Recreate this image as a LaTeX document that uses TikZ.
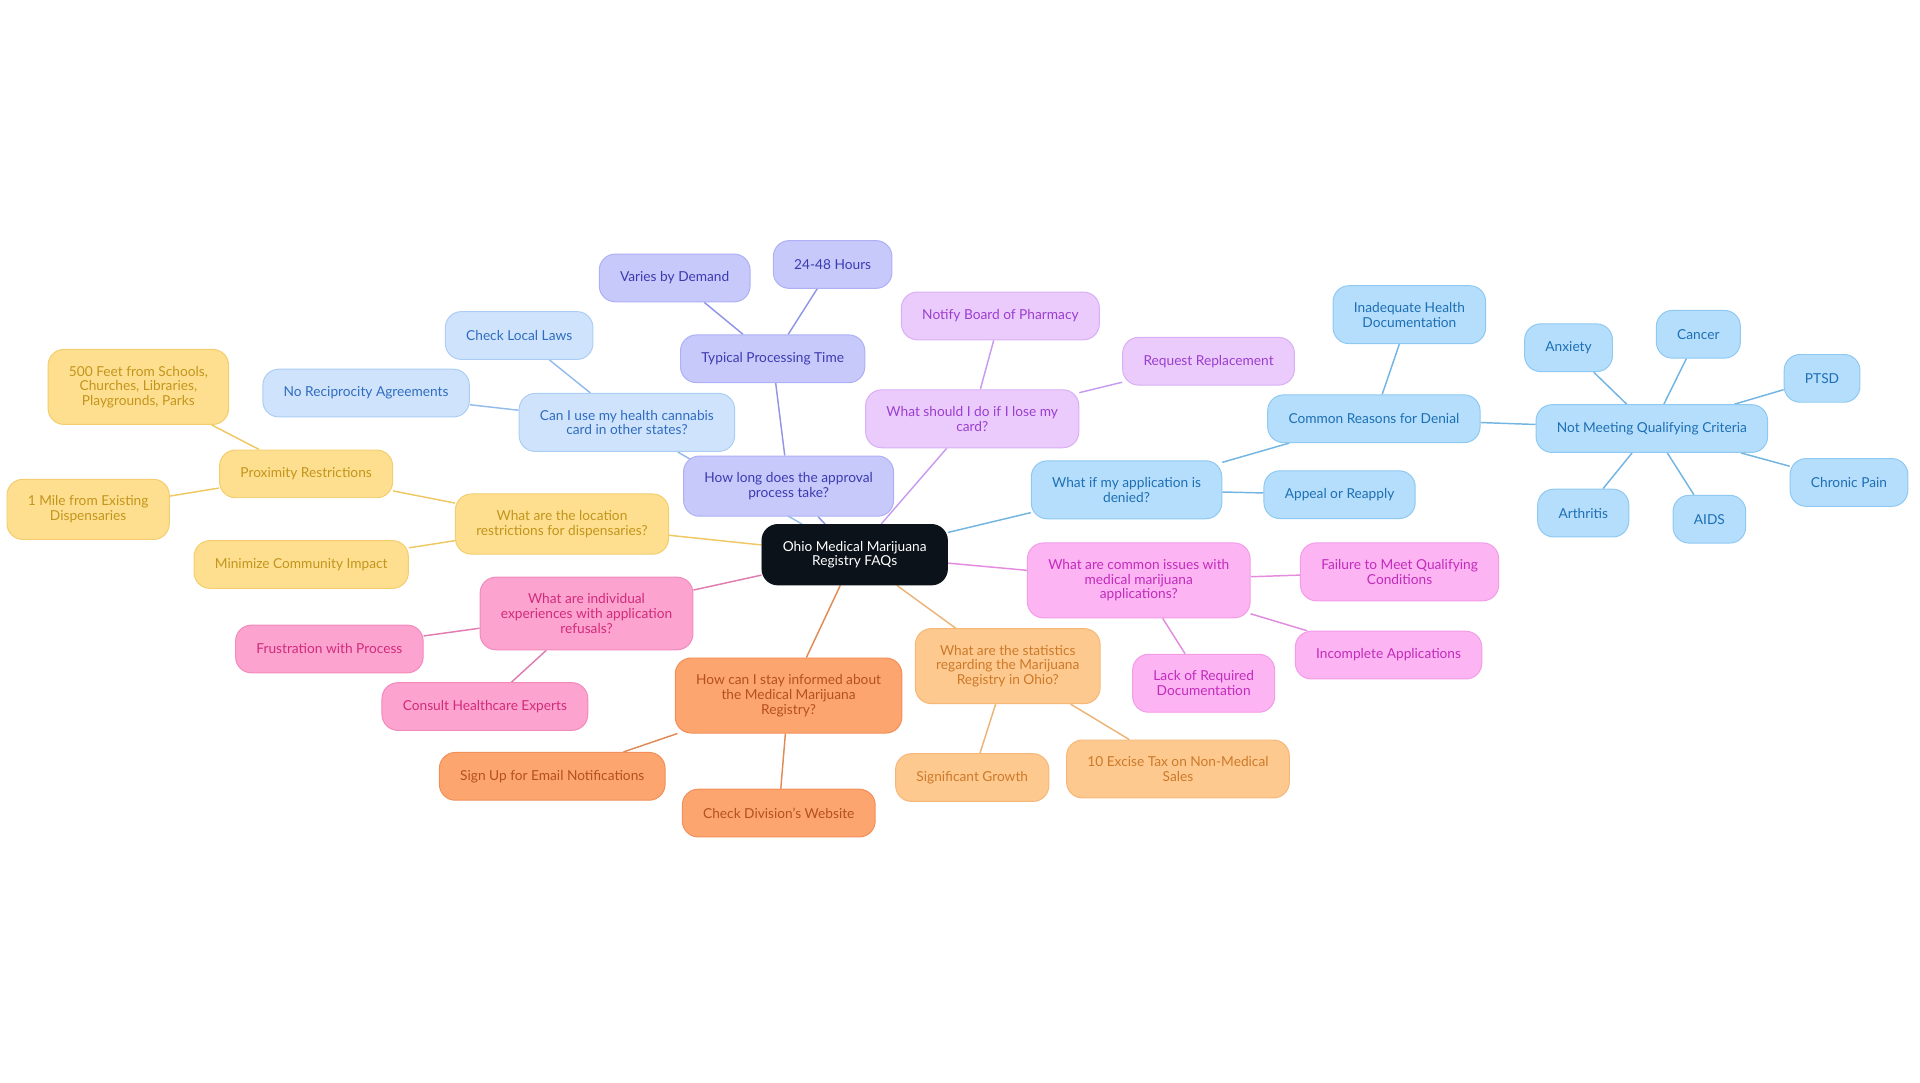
\documentclass[tikz,border=0pt]{standalone}
\usepackage{fontspec}
\setmainfont{Lato}
\usepackage{xcolor}
\usetikzlibrary{backgrounds}

\definecolor{hubfill}{HTML}{0C1219}
\definecolor{lavfill}{HTML}{C7C9FB}\definecolor{lavline}{HTML}{ADB0F5}
\definecolor{lavtext}{HTML}{3B3BB0}\definecolor{lavedge}{HTML}{9195E8}
\definecolor{skyfill}{HTML}{CFE4FC}\definecolor{skyline}{HTML}{ABCDF4}
\definecolor{skytext}{HTML}{2F6CBF}\definecolor{skyedge}{HTML}{93BCEC}
\definecolor{sunfill}{HTML}{FDDF8F}\definecolor{sunline}{HTML}{F4CD6E}
\definecolor{suntext}{HTML}{C4951C}\definecolor{sunedge}{HTML}{EEC862}
\definecolor{rosefill}{HTML}{FDA3CF}\definecolor{roseline}{HTML}{F08BBB}
\definecolor{rosetext}{HTML}{D12B7B}\definecolor{roseedge}{HTML}{DF7DB0}
\definecolor{tanfill}{HTML}{FDA56F}\definecolor{tanline}{HTML}{F28F58}
\definecolor{tantext}{HTML}{B4501C}\definecolor{tanedge}{HTML}{E08A56}
\definecolor{peachfill}{HTML}{FEC98F}\definecolor{peachline}{HTML}{F5B778}
\definecolor{peachtext}{HTML}{CC7A2A}\definecolor{peachedge}{HTML}{EDB478}
\definecolor{orchidfill}{HTML}{FCB4F2}\definecolor{orchidline}{HTML}{F29CE8}
\definecolor{orchidtext}{HTML}{C22BBC}\definecolor{orchidedge}{HTML}{E38BDE}
\definecolor{lilacfill}{HTML}{EACBFC}\definecolor{lilacline}{HTML}{D8AFF5}
\definecolor{lilactext}{HTML}{9B3ECF}\definecolor{lilacedge}{HTML}{C79BEE}
\definecolor{azurefill}{HTML}{B4DEFC}\definecolor{azureline}{HTML}{8FC8F1}
\definecolor{azuretext}{HTML}{1E6FB3}\definecolor{azureedge}{HTML}{72B5E3}

\begin{document}
\begin{tikzpicture}[x=1pt,y=1pt,auto]
\tikzstyle{bub}=[draw, rounded corners=13pt, align=center, inner xsep=17pt,
inner ysep=13.5pt, minimum height=39pt, line width=0.8pt,
font=\fontsize{11.2}{12}\selectfont]
\tikzstyle{faq}=[bub, fill=hubfill, draw=hubfill, text=white]
\tikzstyle{lav}=[bub, fill=lavfill, draw=lavline, text=lavtext]
\tikzstyle{sky}=[bub, fill=skyfill, draw=skyline, text=skytext]
\tikzstyle{sun}=[bub, fill=sunfill, draw=sunline, text=suntext]
\tikzstyle{rose}=[bub, fill=rosefill, draw=roseline, text=rosetext]
\tikzstyle{tan}=[bub, fill=tanfill, draw=tanline, text=tantext]
\tikzstyle{peach}=[bub, fill=peachfill, draw=peachline, text=peachtext]
\tikzstyle{orchid}=[bub, fill=orchidfill, draw=orchidline, text=orchidtext]
\tikzstyle{lilac}=[bub, fill=lilacfill, draw=lilacline, text=lilactext]
\tikzstyle{azure}=[bub, fill=azurefill, draw=azureline, text=azuretext]
\tikzstyle{link}=[line width=1.2pt]

\useasboundingbox (-698,-431) rectangle (870,453);

\node (faq) [faq] {Ohio Medical Marijuana\\Registry FAQs};

% approval time
\path (faq)+(-54,56) node (howlong) [lav] {How long does the approval\\process take?};
\path (howlong)+(-13,104) node (typical) [lav] {Typical Processing Time};
\path (typical)+(-80,66) node (varies) [lav] {Varies by Demand};
\path (typical)+(49,77) node (hours) [lav] {24-48 Hours};

% other states
\path (faq)+(-186,108) node (states) [sky] {Can I use my health cannabis\\card in other states?};
\path (states)+(-88,71) node (laws) [sky] {Check Local Laws};
\path (states)+(-213,24) node (recip) [sky] {No Reciprocity Agreements};

% location
\path (faq)+(-239,25) node (location) [sun] {What are the location\\restrictions for dispensaries?};
\path (location)+(-209,41) node (proximity) [sun] {Proximity Restrictions};
\path (proximity)+(-137,71) node (feet) [sun] {500 Feet from Schools,\\Churches, Libraries,\\Playgrounds, Parks};
\path (proximity)+(-178,-29) node (mile) [sun] {1 Mile from Existing\\Dispensaries};
\path (location)+(-213,-33) node (impact) [sun] {Minimize Community Impact};

% refusals
\path (faq)+(-219,-48) node (refusal) [rose] {What are individual\\experiences with application\\refusals?};
\path (refusal)+(-210,-29) node (frust) [rose] {Frustration with Process};
\path (refusal)+(-83,-76) node (consult) [rose] {Consult Healthcare Experts};

% informed
\path (faq)+(-54,-115) node (informed) [tan] {How can I stay informed about\\the Medical Marijuana\\Registry?};
\path (informed)+(-193,-66) node (email) [tan] {Sign Up for Email Notifications};
\path (informed)+(-8,-96) node (website) [tan] {Check Division's Website};

% statistics
\path (faq)+(125,-91) node (stats) [peach] {What are the statistics\\regarding the Marijuana\\Registry in Ohio?};
\path (stats)+(-29,-91) node (growth) [peach] {Significant Growth};
\path (stats)+(139,-84) node (excise) [peach] {10 Excise Tax on Non-Medical\\Sales};

% common issues
\path (faq)+(232,-21) node (issues) [orchid] {What are common issues with\\medical marijuana\\applications?};
\path (issues)+(213,7) node (failure) [orchid] {Failure to Meet Qualifying\\Conditions};
\path (issues)+(204,-61) node (incomplete) [orchid] {Incomplete Applications};
\path (issues)+(53,-84) node (lack) [orchid] {Lack of Required\\Documentation};

% lost card
\path (faq)+(96,111) node (lose) [lilac] {What should I do if I lose my\\card?};
\path (lose)+(23,84) node (notify) [lilac] {Notify Board of Pharmacy};
\path (lose)+(193,47) node (replace) [lilac] {Request Replacement};

% denied
\path (faq)+(222,53) node (denied) [azure] {What if my application is\\denied?};
\path (denied)+(174,-4) node (appeal) [azure] {Appeal or Reapply};
\path (denied)+(202,58) node (reasons) [azure] {Common Reasons for Denial};
\path (reasons)+(29,85) node (inadequate) [azure] {Inadequate Health\\Documentation};
\path (reasons)+(227,-8) node (criteria) [azure] {Not Meeting Qualifying Criteria};
\path (criteria)+(-68,66) node (anxiety) [azure] {Anxiety};
\path (criteria)+(38,77) node (cancer) [azure] {Cancer};
\path (criteria)+(139,41) node (ptsd) [azure] {PTSD};
\path (criteria)+(161,-44) node (pain) [azure] {Chronic Pain};
\path (criteria)+(47,-74) node (aids) [azure] {AIDS};
\path (criteria)+(-56,-69) node (arthritis) [azure] {Arthritis};

\begin{pgfonlayer}{background}
\path [draw, link, lavedge] (faq) -- (howlong);
\path [draw, link, lavedge] (howlong) -- (typical);
\path [draw, link, lavedge] (typical) -- (varies);
\path [draw, link, lavedge] (typical) -- (hours);
\path [draw, link, skyedge] (faq) -- (states);
\path [draw, link, skyedge] (states) -- (laws);
\path [draw, link, skyedge] (states) -- (recip);
\path [draw, link, sunedge] (faq) -- (location);
\path [draw, link, sunedge] (location) -- (proximity);
\path [draw, link, sunedge] (proximity) -- (feet);
\path [draw, link, sunedge] (proximity) -- (mile);
\path [draw, link, sunedge] (location) -- (impact);
\path [draw, link, roseedge] (faq) -- (refusal);
\path [draw, link, roseedge] (refusal) -- (frust);
\path [draw, link, roseedge] (refusal) -- (consult);
\path [draw, link, tanedge] (faq) -- (informed);
\path [draw, link, tanedge] (informed) -- (email);
\path [draw, link, tanedge] (informed) -- (website);
\path [draw, link, peachedge] (faq) -- (stats);
\path [draw, link, peachedge] (stats) -- (growth);
\path [draw, link, peachedge] (stats) -- (excise);
\path [draw, link, orchidedge] (faq) -- (issues);
\path [draw, link, orchidedge] (issues) -- (failure);
\path [draw, link, orchidedge] (issues) -- (incomplete);
\path [draw, link, orchidedge] (issues) -- (lack);
\path [draw, link, lilacedge] (faq) -- (lose);
\path [draw, link, lilacedge] (lose) -- (notify);
\path [draw, link, lilacedge] (lose) -- (replace);
\path [draw, link, azureedge] (faq) -- (denied);
\path [draw, link, azureedge] (denied) -- (appeal);
\path [draw, link, azureedge] (denied) -- (reasons);
\path [draw, link, azureedge] (reasons) -- (inadequate);
\path [draw, link, azureedge] (reasons) -- (criteria);
\path [draw, link, azureedge] (criteria) -- (anxiety);
\path [draw, link, azureedge] (criteria) -- (cancer);
\path [draw, link, azureedge] (criteria) -- (ptsd);
\path [draw, link, azureedge] (criteria) -- (pain);
\path [draw, link, azureedge] (criteria) -- (aids);
\path [draw, link, azureedge] (criteria) -- (arthritis);
\end{pgfonlayer}
\end{tikzpicture}
\end{document}
